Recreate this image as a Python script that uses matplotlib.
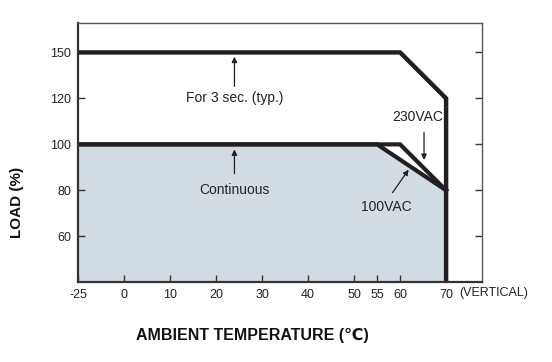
import numpy as np
import matplotlib.pyplot as plt
from matplotlib import font_manager

# derating curve data
temp_ticks = [-25, 0, 10, 20, 30, 40, 50, 55, 60, 70]
load_ticks = [60, 80, 100, 120, 150]

peak_t = [-25, 60, 70, 70]
peak_load = [150, 150, 120, 40]
ac230_t = [-25, 60, 70]
ac230_load = [100, 100, 80]
ac100_t = [-25, 55, 70]
ac100_load = [100, 100, 80]

# broken axes as drawn on the datasheet
x_knots = [-25, 0, 80]
x_pos = [-10, 0, 80]
y_knots = [40, 60, 80, 100, 120, 150, 180]
y_pos = [-1, 0, 1, 2, 3, 4, 5]

names = {f.name for f in font_manager.fontManager.ttflist}
fam = 'Liberation Sans Narrow' if 'Liberation Sans Narrow' in names else 'Liberation Sans'
plt.rcParams['font.family'] = [fam, 'DejaVu Sans']

ink = '#231f20'
fill_col = '#d3dce3'

fig = plt.figure(figsize=(5.52, 3.62), dpi=100)
ax = fig.add_axes([78/552, 1-282.3/362, (482-78)/552, (282.3-23.3)/362])

ax.set_xscale('function', functions=(lambda t: np.interp(t, x_knots, x_pos),
                                     lambda p: np.interp(p, x_pos, x_knots)))
ax.set_yscale('function', functions=(lambda v: np.interp(v, y_knots, y_pos),
                                     lambda p: np.interp(p, y_pos, y_knots)))

ax.fill_between(ac100_t, ac100_load, 40, color=fill_col, lw=0)
ax.plot(ac230_t, ac230_load, color=ink, lw=3, solid_joinstyle='miter')
ax.plot(ac100_t, ac100_load, color=ink, lw=3, solid_joinstyle='miter')
ax.plot(peak_t, peak_load, color=ink, lw=3.2, solid_joinstyle='miter')

ax.set_xlim(-25, 77.8)
ax.set_ylim(40, 169)
ax.set_xticks(temp_ticks)
ax.set_xticklabels([str(t) for t in temp_ticks])
ax.set_yticks(load_ticks)
ax.set_yticklabels([str(v) for v in load_ticks])
ax.minorticks_off()
ax.tick_params(direction='in', length=5, width=1, color='#333333',
               labelsize=9, labelcolor='#222222', right=True, pad=5)
ax.tick_params(axis='x', pad=5)

for side in ['left', 'bottom']:
    ax.spines[side].set_linewidth(1.6)
    ax.spines[side].set_color('#333333')
for side in ['top', 'right']:
    ax.spines[side].set_linewidth(1.0)
    ax.spines[side].set_color('#555555')

arrow = dict(arrowstyle='-|>', color=ink, lw=0.9, mutation_scale=8)
ax.annotate('', xy=(24, 149), xytext=(24, 126), arrowprops=arrow)
ax.text(24, 120, 'For 3 sec. (typ.)', ha='center', va='center', fontsize=10, color='#222222')
ax.annotate('', xy=(24, 99), xytext=(24, 86), arrowprops=arrow)
ax.text(24, 80, 'Continuous', ha='center', va='center', fontsize=10, color='#222222')
ax.annotate('', xy=(65.2, 92), xytext=(65.2, 106.5), arrowprops=arrow)
ax.text(63.9, 112, '230VAC', ha='center', va='center', fontsize=10, color='#222222')
ax.annotate('', xy=(62.2, 90), xytext=(58.0, 78), arrowprops=arrow)
ax.text(57.1, 72.6, '100VAC', ha='center', va='center', fontsize=10, color='#222222')

fig.text(494/552, 1-293/362, '(VERTICAL)', ha='center', va='center', fontsize=9, color='#222222')
fig.text(17/552, 1-202/362, 'LOAD (%)', rotation=90, ha='center', va='center',
         fontsize=11, fontweight='bold', color='#111111')
fig.text(252/552, 1-335/362, 'AMBIENT TEMPERATURE (℃)', ha='center', va='center',
         fontsize=11.5, fontweight='bold', color='#111111')

fig.savefig('out.png', dpi=100)
